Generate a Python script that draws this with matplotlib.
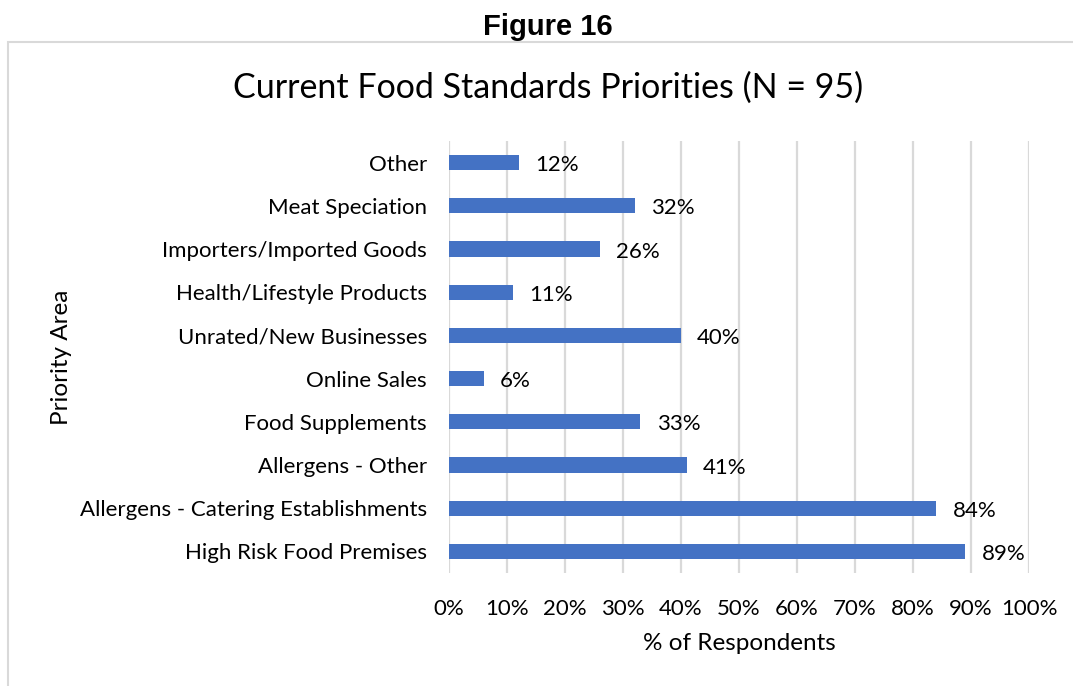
import matplotlib.pyplot as plt
from matplotlib.patches import Rectangle
from matplotlib.ticker import MultipleLocator, PercentFormatter

plt.rcParams['font.family'] = ['Lato', 'DejaVu Sans']

# 优先领域及受访者比例（%）
areas = ['High Risk Food Premises', 'Allergens - Catering Establishments',
         'Allergens - Other', 'Food Supplements', 'Online Sales',
         'Unrated/New Businesses', 'Health/Lifestyle Products',
         'Importers/Imported Goods', 'Meat Speciation', 'Other']
pct = [89, 84, 41, 33, 6, 40, 11, 26, 32, 12]

fig = plt.figure(figsize=(10.73, 6.86), dpi=100)
ax = fig.add_axes([449 / 1073, 1 - 573 / 686, 580 / 1073, 432 / 686])

ypos = range(len(areas))
ax.barh(ypos, pct, height=0.35, color='#4472C4', zorder=3)
for y, v in zip(ypos, pct):
    ax.text(v + 2.8, y - 0.06, f'{v}%', va='center', ha='left', fontsize=16, color='black')

ax.set_xlim(0, 100)
ax.set_ylim(-0.5, len(areas) - 0.5)
ax.set_yticks(list(ypos))
ax.set_yticklabels(areas, fontsize=16)
ax.xaxis.set_major_locator(MultipleLocator(10))
ax.xaxis.set_major_formatter(PercentFormatter(decimals=0))
ax.tick_params(axis='x', labelsize=16, length=0, pad=19)
ax.tick_params(axis='y', length=0, pad=16)
ax.grid(axis='x', color='#d9d9d9', linewidth=1.6, zorder=0)
for s in ax.spines.values():
    s.set_visible(False)

ax.set_xlabel('% of Respondents', fontsize=17.5, va='center')
ax.set_ylabel('Priority Area', fontsize=17.5, va='center')
ax.xaxis.set_label_coords((739 - 449) / 580, (573 - 643) / 432)
ax.yaxis.set_label_coords((61 - 449) / 580, (573 - 357) / 432)

# 图表外框和标题
fig.patches.append(Rectangle((8 / 1073, -0.1), 1.2, 1.1 - 42 / 686, transform=fig.transFigure,
                             fill=False, edgecolor='#d9d9d9', linewidth=1.5))
fig.text(548 / 1073, 1 - 27 / 686, 'Figure 16', ha='center', va='center',
         fontsize=21, fontweight='bold', family='Liberation Sans')
fig.text(548 / 1073, 1 - 88 / 686, 'Current Food Standards Priorities (N = 95)',
         ha='center', va='center', fontsize=24.5)

fig.savefig('out.png', dpi=100)
